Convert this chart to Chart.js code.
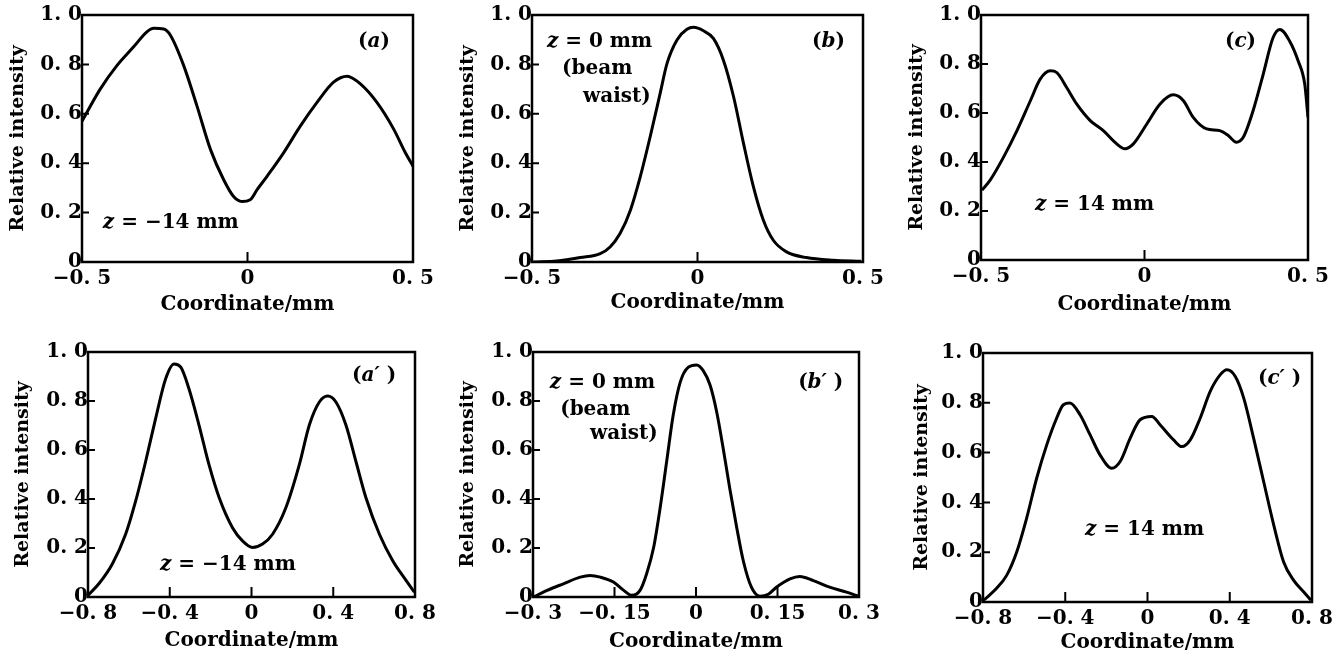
<!DOCTYPE html>
<html>
<head>
<meta charset="utf-8">
<script src="https://cdn.jsdelivr.net/npm/chart.js@4.4.0/dist/chart.umd.min.js"></script>
<style>
  html, body { margin: 0; padding: 0; background: #fff; }
  #wrap { position: relative; width: 1343px; height: 656px; overflow: hidden; }
  .cell { position: absolute; }
</style>
</head>
<body>
<div id="wrap"></div>
<script>
// ---- data (coordinate / mm, relative intensity) ----
const aX = [-0.5, -0.445, -0.394, -0.344, -0.304, -0.283, -0.253, -0.233, -0.193, -0.153, -0.112, -0.072, -0.042, -0.017, 0.008, 0.029, 0.059, 0.109, 0.16, 0.21, 0.26, 0.301, 0.341, 0.391, 0.442, 0.477, 0.5];
const aY = [0.57, 0.70, 0.796, 0.871, 0.932, 0.946, 0.943, 0.918, 0.796, 0.633, 0.456, 0.333, 0.265, 0.245, 0.252, 0.293, 0.347, 0.442, 0.551, 0.646, 0.728, 0.752, 0.721, 0.646, 0.537, 0.442, 0.388];

const bX = [-0.495, -0.425, -0.354, -0.294, -0.264, -0.234, -0.203, -0.173, -0.143, -0.113, -0.092, -0.062, -0.032, -0.012, 0.018, 0.048, 0.078, 0.109, 0.139, 0.169, 0.199, 0.229, 0.269, 0.329, 0.41, 0.495];
const bY = [0.0, 0.004, 0.018, 0.034, 0.061, 0.115, 0.209, 0.345, 0.507, 0.682, 0.804, 0.899, 0.942, 0.95, 0.936, 0.905, 0.818, 0.669, 0.48, 0.304, 0.169, 0.088, 0.041, 0.018, 0.007, 0.003];

const cX = [-0.497, -0.472, -0.431, -0.39, -0.349, -0.319, -0.288, -0.268, -0.238, -0.207, -0.166, -0.126, -0.085, -0.06, -0.034, 0.007, 0.047, 0.088, 0.119, 0.149, 0.19, 0.23, 0.256, 0.281, 0.302, 0.332, 0.363, 0.393, 0.414, 0.444, 0.47, 0.49, 0.5];
const cY = [0.285, 0.326, 0.42, 0.528, 0.65, 0.738, 0.772, 0.765, 0.704, 0.636, 0.569, 0.528, 0.474, 0.454, 0.474, 0.555, 0.636, 0.674, 0.65, 0.582, 0.535, 0.528, 0.508, 0.481, 0.501, 0.609, 0.758, 0.907, 0.941, 0.893, 0.812, 0.718, 0.582];

const a2X = [-0.8, -0.747, -0.681, -0.616, -0.567, -0.518, -0.469, -0.42, -0.379, -0.346, -0.306, -0.257, -0.208, -0.158, -0.093, -0.044, 0.005, 0.054, 0.103, 0.168, 0.234, 0.283, 0.332, 0.373, 0.413, 0.462, 0.511, 0.56, 0.626, 0.691, 0.757, 0.797];
const a2Y = [0.007, 0.054, 0.135, 0.256, 0.391, 0.553, 0.729, 0.891, 0.951, 0.938, 0.85, 0.702, 0.54, 0.405, 0.283, 0.229, 0.202, 0.216, 0.256, 0.364, 0.54, 0.702, 0.796, 0.82, 0.796, 0.702, 0.553, 0.405, 0.256, 0.148, 0.067, 0.02];

const b2X = [-0.299, -0.274, -0.244, -0.213, -0.195, -0.176, -0.152, -0.133, -0.118, -0.103, -0.091, -0.078, -0.066, -0.054, -0.042, -0.029, -0.014, 0.001, 0.013, 0.026, 0.038, 0.05, 0.062, 0.075, 0.087, 0.102, 0.118, 0.133, 0.148, 0.173, 0.191, 0.216, 0.246, 0.277, 0.299];
const b2Y = [0.0, 0.027, 0.054, 0.081, 0.088, 0.081, 0.061, 0.027, 0.007, 0.027, 0.094, 0.202, 0.364, 0.553, 0.742, 0.877, 0.938, 0.947, 0.925, 0.864, 0.756, 0.607, 0.445, 0.283, 0.148, 0.04, 0.003, 0.011, 0.04, 0.074, 0.084, 0.067, 0.04, 0.02, 0.003];

const c2X = [-0.797, -0.735, -0.685, -0.636, -0.588, -0.539, -0.49, -0.442, -0.409, -0.377, -0.328, -0.279, -0.231, -0.174, -0.133, -0.084, -0.036, 0.021, 0.062, 0.127, 0.167, 0.208, 0.256, 0.305, 0.354, 0.386, 0.427, 0.468, 0.516, 0.565, 0.614, 0.662, 0.711, 0.76, 0.795];
const c2Y = [0.007, 0.054, 0.107, 0.201, 0.336, 0.497, 0.631, 0.738, 0.792, 0.799, 0.752, 0.671, 0.591, 0.537, 0.564, 0.658, 0.732, 0.745, 0.711, 0.651, 0.624, 0.651, 0.738, 0.846, 0.913, 0.933, 0.906, 0.819, 0.658, 0.483, 0.309, 0.161, 0.087, 0.04, 0.007];

const xTitle = 'Coordinate/mm';
const yTitle = 'Relative intensity';

// ---- layout of the six panels (page px) ----
const panels = [
  { xs: aX, ys: aY, xr: [-0.5, 0.5, 0.5], cell: [0, 0, 447, 328], box: [82, 15, 413, 262], yTitleX: 18, xTitleY: 305,
    notes: [
      { parts: [['(', 0], ['a', 1], [')', 0]], x: 0.334, y: 0.891 },
      { parts: [['z', 1], [' = −14 mm', 0]], x: -0.437, y: 0.158 }
    ] },
  { xs: bX, ys: bY, xr: [-0.5, 0.5, 0.5], cell: [447, 0, 448, 328], box: [532, 15, 863, 262], yTitleX: 468, xTitleY: 303,
    notes: [
      { parts: [['z', 1], [' = 0 mm', 0]], x: -0.455, y: 0.891 },
      { parts: [['(beam', 0]], x: -0.409, y: 0.781 },
      { parts: [['waist)', 0]], x: -0.346, y: 0.668 },
      { parts: [['(', 0], ['b', 1], [')', 0]], x: 0.346, y: 0.891 }
    ] },
  { xs: cX, ys: cY, xr: [-0.5, 0.5, 0.5], cell: [895, 0, 448, 328], box: [981, 15, 1308, 260], yTitleX: 917, xTitleY: 305,
    notes: [
      { parts: [['(', 0], ['c', 1], [')', 0]], x: 0.246, y: 0.89 },
      { parts: [['z', 1], [' = 14 mm', 0]], x: -0.335, y: 0.224 }
    ] },
  { xs: a2X, ys: a2Y, xr: [-0.8, 0.8, 0.4], cell: [0, 328, 447, 328], box: [88, 352, 415, 597], yTitleX: 23, xTitleY: 641,
    notes: [
      { parts: [['(', 0], ['a′', 1], [' )', 0]], x: 0.492, y: 0.902 },
      { parts: [['z', 1], [' = −14 mm', 0]], x: -0.448, y: 0.131 }
    ] },
  { xs: b2X, ys: b2Y, xr: [-0.3, 0.3, 0.15], cell: [447, 328, 448, 328], box: [533, 352, 859, 597], yTitleX: 468, xTitleY: 642,
    notes: [
      { parts: [['z', 1], [' = 0 mm', 0]], x: -0.269, y: 0.873 },
      { parts: [['(beam', 0]], x: -0.25, y: 0.763 },
      { parts: [['waist)', 0]], x: -0.195, y: 0.665 },
      { parts: [['(', 0], ['b′', 1], [' )', 0]], x: 0.188, y: 0.873 }
    ] },
  { xs: c2X, ys: c2Y, xr: [-0.8, 0.8, 0.4], cell: [895, 328, 448, 328], box: [983, 353, 1312, 602], yTitleX: 922, xTitleY: 643,
    notes: [
      { parts: [['(', 0], ['c′', 1], [' )', 0]], x: 0.537, y: 0.896 },
      { parts: [['z', 1], [' = 14 mm', 0]], x: -0.304, y: 0.289 }
    ] }
];

const FAMILY = '"DejaVu Serif", "Liberation Serif", serif';

// "0. 5" style tick labels, long minus
function fmtTick(v) {
  if (Math.abs(v) < 1e-9) return '0';
  let s = String(Math.round(v * 100) / 100);
  if (!s.includes('.')) s += '.0';
  return s.replace('-', '−').replace('.', '. ');
}

// box + inward tick marks
const framePlugin = {
  id: 'frame',
  afterDatasetsDraw(chart) {
    const { ctx, chartArea: a, scales: { x, y } } = chart;
    ctx.save();
    ctx.strokeStyle = '#000';
    ctx.lineWidth = 2.5;
    ctx.strokeRect(a.left, a.top, a.right - a.left, a.bottom - a.top);
    ctx.lineWidth = 2;
    ctx.beginPath();
    y.ticks.slice(1, -1).forEach(t => {
      const py = y.getPixelForValue(t.value);
      ctx.moveTo(a.left, py); ctx.lineTo(a.left + 7, py);
    });
    x.ticks.slice(1, -1).forEach(t => {
      const px = x.getPixelForValue(t.value);
      ctx.moveTo(px, a.bottom); ctx.lineTo(px, a.bottom - 10);
    });
    ctx.stroke();
    ctx.restore();
  }
};

// in-plot labels, with italic pieces
const notesPlugin = {
  id: 'notes',
  afterDraw(chart, args, opts) {
    const { ctx, scales: { x, y } } = chart;
    ctx.save();
    ctx.fillStyle = '#000';
    ctx.textBaseline = 'middle';
    ctx.textAlign = 'left';
    (opts.items || []).forEach(n => {
      let px = x.getPixelForValue(n.x);
      const py = y.getPixelForValue(n.y);
      n.parts.forEach(([t, it]) => {
        ctx.font = (it ? 'italic ' : '') + 'bold 20px ' + FAMILY;
        ctx.fillText(t, px, py);
        px += ctx.measureText(t).width;
      });
    });
    ctx.restore();
  }
};

function buildChart(p) {
  const [cx, cy, cw, ch] = p.cell;
  const [L, T, R, B] = p.box;
  const div = document.createElement('div');
  div.className = 'cell';
  Object.assign(div.style, { left: cx + 'px', top: cy + 'px', width: cw + 'px', height: ch + 'px' });
  const canvas = document.createElement('canvas');
  canvas.width = cw; canvas.height = ch;
  div.appendChild(canvas);
  document.getElementById('wrap').appendChild(div);

  const yW = L - (p.yTitleX - 11);
  const xH = (p.xTitleY + 12) - B;

  return new Chart(canvas, {
    type: 'line',
    data: {
      datasets: [{
        data: p.xs.map((v, i) => ({ x: v, y: p.ys[i] })),
        borderColor: '#000',
        borderWidth: 3,
        pointRadius: 0,
        fill: false,
        cubicInterpolationMode: 'monotone'
      }]
    },
    options: {
      responsive: false,
      animation: false,
      layout: { padding: { left: L - yW - cx, top: T - cy, right: cx + cw - R, bottom: cy + ch - B - xH } },
      plugins: {
        legend: { display: false },
        tooltip: { enabled: false },
        notes: { items: p.notes }
      },
      scales: {
        x: {
          type: 'linear',
          min: p.xr[0], max: p.xr[1],
          grid: { display: false, drawTicks: false },
          border: { display: false },
          ticks: {
            stepSize: p.xr[2], autoSkip: false, maxRotation: 0, padding: 5,
            color: '#000', font: { family: FAMILY, size: 20, weight: 'bold' },
            callback: v => fmtTick(v)
          },
          title: { display: true, text: xTitle, color: '#000', padding: 0, font: { family: FAMILY, size: 20, weight: 'bold' } },
          afterFit: s => { s.height = xH; }
        },
        y: {
          min: 0, max: 1,
          grid: { display: false, drawTicks: false },
          border: { display: false },
          ticks: {
            stepSize: 0.2, padding: 0,
            color: '#000', font: { family: FAMILY, size: 20, weight: 'bold' },
            callback: v => fmtTick(v)
          },
          title: { display: true, text: yTitle, color: '#000', padding: 0, font: { family: FAMILY, size: 19, weight: 'bold' } },
          afterFit: s => { s.width = yW; }
        }
      }
    },
    plugins: [framePlugin, notesPlugin]
  });
}

panels.forEach(buildChart);
</script>
</body>
</html>
